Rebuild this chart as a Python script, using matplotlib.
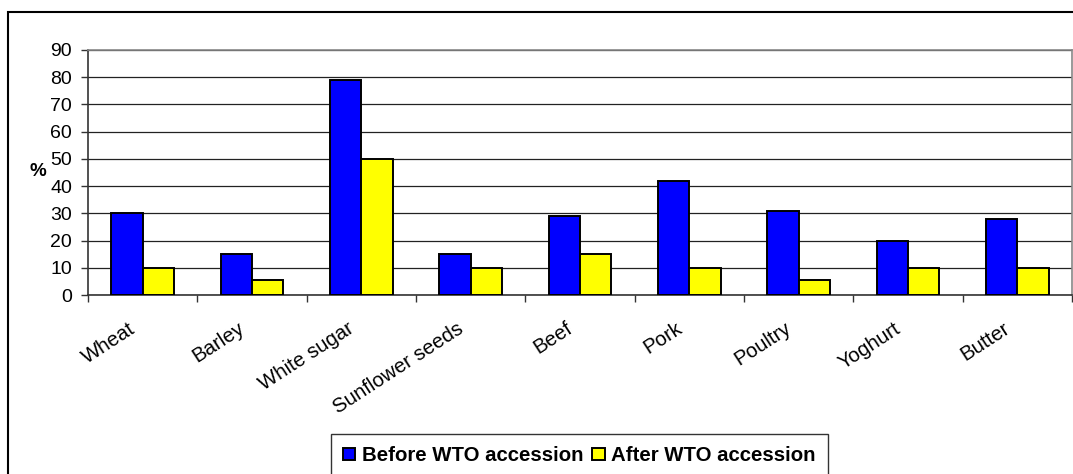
import matplotlib
matplotlib.use("Agg")
import matplotlib.pyplot as plt
import numpy as np
from matplotlib.patches import Rectangle
from matplotlib.transforms import ScaledTranslation

categories = ["Wheat", "Barley", "White sugar", "Sunflower seeds", "Beef",
              "Pork", "Poultry", "Yoghurt", "Butter"]
before = [30, 15, 79, 15, 29, 42, 31, 20, 28]
after = [10, 5.5, 50, 10, 15, 10, 5.5, 10, 10]
series_names = ["Before WTO accession", "After WTO accession"]
yticks = [0, 10, 20, 30, 40, 50, 60, 70, 80, 90]

plt.rcParams['font.family'] = ['Liberation Sans', 'DejaVu Sans']

W, H = 1073, 474
fig = plt.figure(figsize=(W / 100, H / 100), dpi=100)
ax = fig.add_axes([88 / W, (H - 295) / H, (1072 - 88) / W, (295 - 50) / H])

x = np.arange(len(categories))
bw = 0.288
ax.bar(x - bw / 2, before, width=bw, color='#0000FF', edgecolor='black',
       linewidth=1.4, label=series_names[0], zorder=3)
ax.bar(x + bw / 2, after, width=bw, color='#FFFF00', edgecolor='black',
       linewidth=1.4, label=series_names[1], zorder=3)

ax.set_xlim(-0.5, len(categories) - 0.5)
ax.set_ylim(0, 90)
ax.set_yticks(yticks)
ax.yaxis.grid(True, color='#222222', linewidth=0.9, zorder=0)
ax.set_axisbelow(True)

ax.tick_params(axis='y', labelsize=14, length=4.8, width=1, color='#333333',
               pad=6.8, direction='out')
ax.set_xticks(x)
ax.set_xticklabels(categories, fontsize=14.7, rotation=33, ha='right',
                   va='center', rotation_mode='anchor')
ax.tick_params(axis='x', which='major', length=0, pad=23)
ax.set_xticks(np.arange(len(categories) + 1) - 0.5, minor=True)
ax.tick_params(axis='x', which='minor', length=5, width=1, color='#333333',
               direction='out')
offset = ScaledTranslation(-9 / 100, 0, fig.dpi_scale_trans)
for lab in ax.get_xticklabels():
    lab.set_transform(lab.get_transform() + offset)

for s in ['left', 'bottom']:
    ax.spines[s].set_color('#333333')
    ax.spines[s].set_linewidth(1.2)
for s in ['top', 'right']:
    ax.spines[s].set_color('#888888')
    ax.spines[s].set_linewidth(1.2)

fig.text(37.7 / W, (H - 171.5) / H, '%', fontsize=13.5, fontweight='bold',
         ha='center', va='center')

fig.patches.append(Rectangle((8 / W, -0.5), 2, (H - 12) / H + 0.5,
                             transform=fig.transFigure, fill=False,
                             edgecolor='black', linewidth=1.5))

leg = fig.legend(loc='upper center', bbox_to_anchor=(579.5 / W, (H - 434) / H),
                 ncol=2, prop={'weight': 'bold', 'size': 14.7},
                 frameon=True, fancybox=False, edgecolor='black',
                 handlelength=0.59, handleheight=0.59, handletextpad=0.34,
                 columnspacing=0.44, borderpad=0.6, borderaxespad=0)
leg.get_frame().set_linewidth(1.0)

fig.savefig('out.png', dpi=100)
